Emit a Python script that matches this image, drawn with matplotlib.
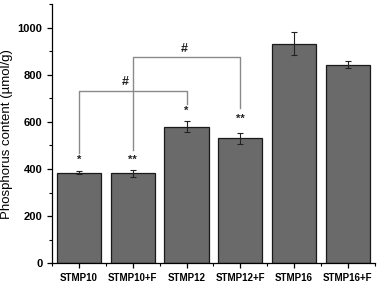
import numpy as np
import matplotlib
matplotlib.use("Agg")
import matplotlib.pyplot as plt
from matplotlib.ticker import MultipleLocator

groups = ["STMP10", "STMP10+F", "STMP12", "STMP12+F", "STMP16", "STMP16+F"]
phosphorus = [385, 383, 579, 530, 932, 843]
errors = [5, 15, 23, 24, 50, 14]
stars = ["*", "**", "*", "**", "", ""]
star_y = [438, 438, 645, 614, 0, 0]

# brackets: (left idx, right idx, left foot, top, right foot, label x, label y)
brackets = [
    (0, 2, 466, 732, 675, 0.86, 770),
    (1, 3, 480, 876, 661, 1.96, 911),
]

plt.rcParams["font.family"] = ["Liberation Sans", "DejaVu Sans"]

fig = plt.figure(figsize=(3.78, 2.83), dpi=100)
ax = fig.add_axes([0.1376, 0.0696, 0.854, 0.916])

x = np.arange(len(groups))
ax.bar(x, phosphorus, width=0.82, color="#6a6a6a", edgecolor="#1a1a1a",
       linewidth=0.9, zorder=2)
ax.errorbar(x, phosphorus, yerr=errors, fmt="none", ecolor="#222222",
            elinewidth=0.8, capsize=2.5, capthick=0.8, zorder=3)

for xi, s, sy in zip(x, stars, star_y):
    if s:
        ax.text(xi, sy, s, ha="center", va="center", fontsize=8,
                fontweight="bold", color="#222222")

for l, r, yl, top, yr, lx, ly in brackets:
    ax.plot([l, l, r, r], [yl, top, top, yr], color="#8a8a8a",
            linewidth=1.0, zorder=1)
    ax.text(lx, ly, "#", ha="center", va="center", fontsize=9,
            fontweight="bold", color="#222222")

ax.set_xlim(-0.5, 5.5)
ax.set_ylim(0, 1100)
ax.set_xticks(x)
ax.set_xticklabels(groups, fontsize=7, fontweight="bold")
ax.xaxis.set_minor_locator(MultipleLocator(0.5))
ax.set_yticks([0, 200, 400, 600, 800, 1000])
ax.yaxis.set_minor_locator(MultipleLocator(100))
ax.tick_params(axis="y", labelsize=8)
for lab in ax.get_yticklabels():
    lab.set_fontweight("bold")
ax.tick_params(which="major", length=3.5, width=0.9, direction="out")
ax.tick_params(which="minor", length=2, width=0.8, direction="out")
ax.set_ylabel("Phosphorus content (µmol/g)", fontsize=9.5, labelpad=3)

for side in ["top", "right"]:
    ax.spines[side].set_visible(False)
for side in ["left", "bottom"]:
    ax.spines[side].set_linewidth(0.9)

fig.savefig("out.png", dpi=100)
